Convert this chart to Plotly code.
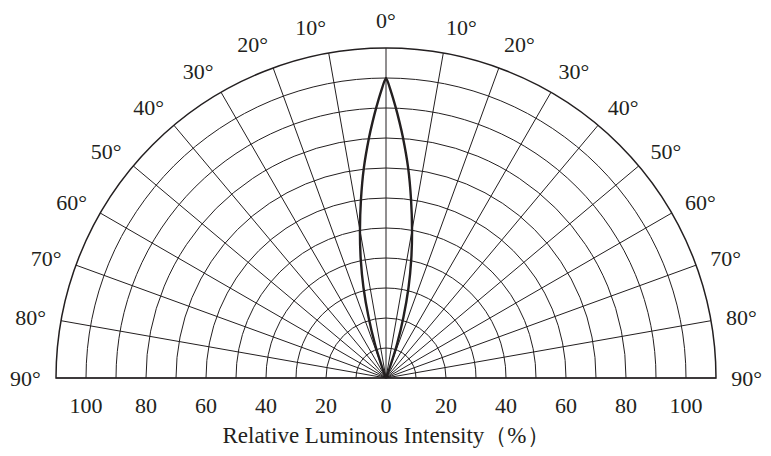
import plotly.graph_objects as go

# ── Data ──────────────────────────────────────────────────────
# beam profile: angle from axis (deg) -> relative intensity (%)
lobe_angle = [0, 1, 2, 3, 4, 6, 8, 10, 12, 14, 16, 18, 19, 20, 21]
lobe_value = [100, 95.5, 90.5, 85.5, 80.5, 70.5, 60, 50, 40.5, 31, 21, 12, 7, 3, 0]

angle_ticks = [-90, -80, -70, -60, -50, -40, -30, -20, -10, 0,
               10, 20, 30, 40, 50, 60, 70, 80, 90]
angle_labels = [f"{abs(a)}°" for a in angle_ticks]

ring_values = [10, 20, 30, 40, 50, 60, 70, 80, 90, 100]
intensity_ticks = [-100, -80, -60, -40, -20, 0, 20, 40, 60, 80, 100]
intensity_labels = [str(abs(v)) for v in intensity_ticks]

# symmetric beam: mirror the right half onto the left
theta = [-a for a in lobe_angle[::-1]] + lobe_angle[1:]
r = lobe_value[::-1] + lobe_value[1:]

INK = '#231f20'
FONT = dict(family='Liberation Serif, Times New Roman, serif', size=22, color=INK)

# the page body adds an 8px offset, so aim for the centre 8px up/left
W, H = 771, 456
cx, cy, R = 378, 370, 330   # centre and outer radius in pixels
dom_x = [(cx - R) / W, (cx + R) / W]
dom_y = [(H - cy) / H, (H - cy + R) / H]

fig = go.Figure()

fig.add_trace(go.Scatterpolar(
    r=r, theta=theta, mode='lines',
    line=dict(color=INK, width=2.4, shape='spline', smoothing=0.6),
    hoverinfo='skip', showlegend=False
))

# invisible helper so the cartesian axis carrying the intensity labels is drawn
fig.add_trace(go.Scatter(
    x=[-110, 110], y=[0, 0], mode='markers',
    marker=dict(opacity=0), hoverinfo='skip', showlegend=False
))

fig.update_layout(
    width=W, height=H,
    margin=dict(l=0, r=0, t=0, b=0),
    paper_bgcolor='white', plot_bgcolor='rgba(0,0,0,0)',
    font=FONT,
    polar=dict(
        domain=dict(x=dom_x, y=dom_y),
        sector=[0, 180],
        bgcolor='white',
        radialaxis=dict(
            range=[0, 110], tickmode='array', tickvals=ring_values,
            showticklabels=False, ticks='', showline=False,
            gridcolor=INK, gridwidth=1.4,
        ),
        angularaxis=dict(
            rotation=90, direction='clockwise',
            tickmode='array', tickvals=angle_ticks, ticktext=angle_labels,
            ticks='outside', ticklen=10, tickcolor='rgba(0,0,0,0)',
            showline=True, linecolor=INK, linewidth=1.5,
            gridcolor=INK, gridwidth=1.4,
            tickfont=FONT,
        ),
    ),
    xaxis=dict(
        domain=dom_x, range=[-110, 110],
        tickmode='array', tickvals=intensity_ticks, ticktext=intensity_labels,
        ticks='outside', ticklen=8, tickcolor='rgba(0,0,0,0)',
        showgrid=False, zeroline=False, showline=False,
        anchor='y', tickfont=FONT,
        title=dict(text='Relative Luminous Intensity（%）',
                   font=dict(FONT, size=23), standoff=9),
        fixedrange=True,
    ),
    yaxis=dict(
        domain=[dom_y[0], dom_y[0] + 0.01], range=[0, 1],
        visible=False, fixedrange=True,
    ),
)

fig.write_html("out.html")
